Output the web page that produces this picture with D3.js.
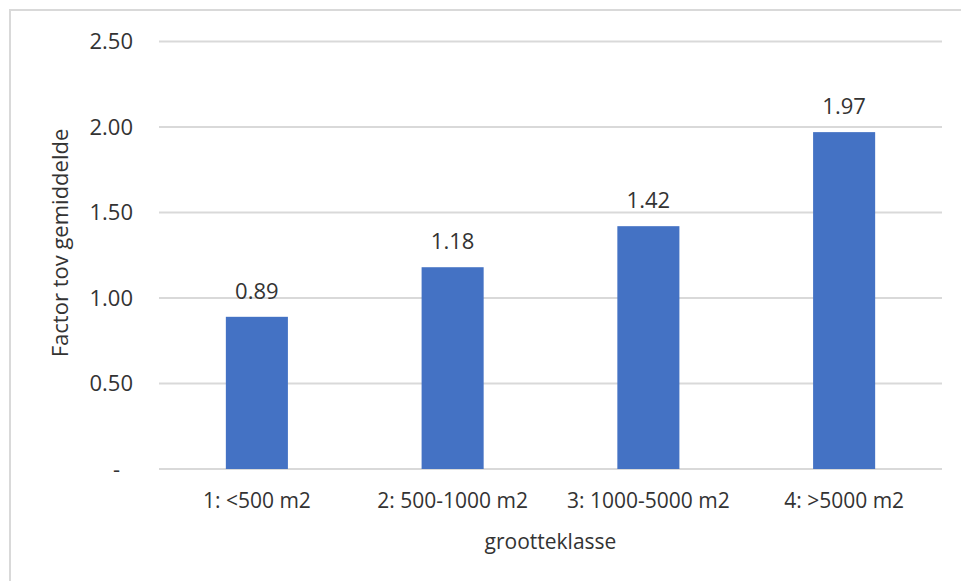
<!DOCTYPE html>
<html>
<head>
<meta charset="utf-8">
<script src="https://cdn.jsdelivr.net/npm/d3@7"></script>
<style>
  html, body { margin: 0; padding: 0; background: #fff; }
  svg { display: block; font-family: "Open Sans", sans-serif; }
</style>
</head>
<body>
<svg id="chart" width="961" height="581"></svg>
<script>
// Size classes and their factor relative to the average
const categories = ["1: <500 m2", "2: 500-1000 m2", "3: 1000-5000 m2", "4: >5000 m2"];
const values = [0.89, 1.18, 1.42, 1.97];
const yTicks = [0, 0.5, 1.0, 1.5, 2.0, 2.5];
const yTitle = "Factor tov gemiddelde";
const xTitle = "grootteklasse";

const svg = d3.select("#chart");
const textColor = "#333333";
const gridColor = "#d9d9d9";
const barColor = "#4472c4";

// Chart frame
svg.append("rect")
  .attr("x", 10).attr("y", 10)
  .attr("width", 980).attr("height", 600)
  .attr("fill", "none")
  .attr("stroke", gridColor)
  .attr("stroke-width", 2);

const plot = { left: 159, right: 942, top: 41.5, bottom: 469 };

const x = d3.scaleBand()
  .domain(categories)
  .range([plot.left, plot.right])
  .paddingInner(0.683)
  .paddingOuter(0.683 / 2);

const y = d3.scaleLinear()
  .domain([0, 2.5])
  .range([plot.bottom, plot.top]);

// Horizontal gridlines
svg.append("g")
  .selectAll("line")
  .data(yTicks)
  .join("line")
  .attr("x1", plot.left).attr("x2", plot.right)
  .attr("y1", d => y(d)).attr("y2", d => y(d))
  .attr("stroke", gridColor)
  .attr("stroke-width", 2);

// Y axis labels (zero shown as a dash, accounting style)
const yAxis = d3.axisLeft(y)
  .tickValues(yTicks)
  .tickSize(0)
  .tickPadding(0)
  .tickFormat(d => d === 0 ? "-" : d3.format(".2f")(d));

const gy = svg.append("g")
  .attr("transform", `translate(133,0)`)
  .call(yAxis);
gy.select(".domain").remove();
gy.selectAll("text")
  .attr("fill", textColor)
  .attr("font-size", 22)
  .attr("font-family", "Open Sans, sans-serif")
  .attr("dx", d => d === 0 ? -13 : 0);

// Bars
svg.append("g")
  .selectAll("rect")
  .data(values)
  .join("rect")
  .attr("x", (d, i) => x(categories[i]))
  .attr("width", x.bandwidth())
  .attr("y", d => y(d))
  .attr("height", d => y(0) - y(d))
  .attr("fill", barColor);

// Value labels
svg.append("g")
  .selectAll("text")
  .data(values)
  .join("text")
  .attr("x", (d, i) => x(categories[i]) + x.bandwidth() / 2)
  .attr("y", d => y(d) - 18)
  .attr("text-anchor", "middle")
  .attr("font-size", 22)
  .attr("fill", textColor)
  .text(d => d3.format(".2f")(d));

// X axis category labels
const xAxis = d3.axisBottom(x).tickSize(0).tickPadding(0);
const gx = svg.append("g")
  .attr("transform", `translate(0,${plot.bottom})`)
  .call(xAxis);
gx.select(".domain").remove();
gx.selectAll("text")
  .attr("fill", textColor)
  .attr("font-size", 21)
  .attr("font-family", "Open Sans, sans-serif")
  .attr("dy", null)
  .attr("y", 39);

// Axis titles
svg.append("text")
  .attr("x", (plot.left + plot.right) / 2)
  .attr("y", 549)
  .attr("text-anchor", "middle")
  .attr("font-size", 21)
  .attr("fill", textColor)
  .text(xTitle);

svg.append("text")
  .attr("transform", `translate(68,243) rotate(-90)`)
  .attr("text-anchor", "middle")
  .attr("font-size", 22)
  .attr("fill", textColor)
  .text(yTitle);
</script>
</body>
</html>
